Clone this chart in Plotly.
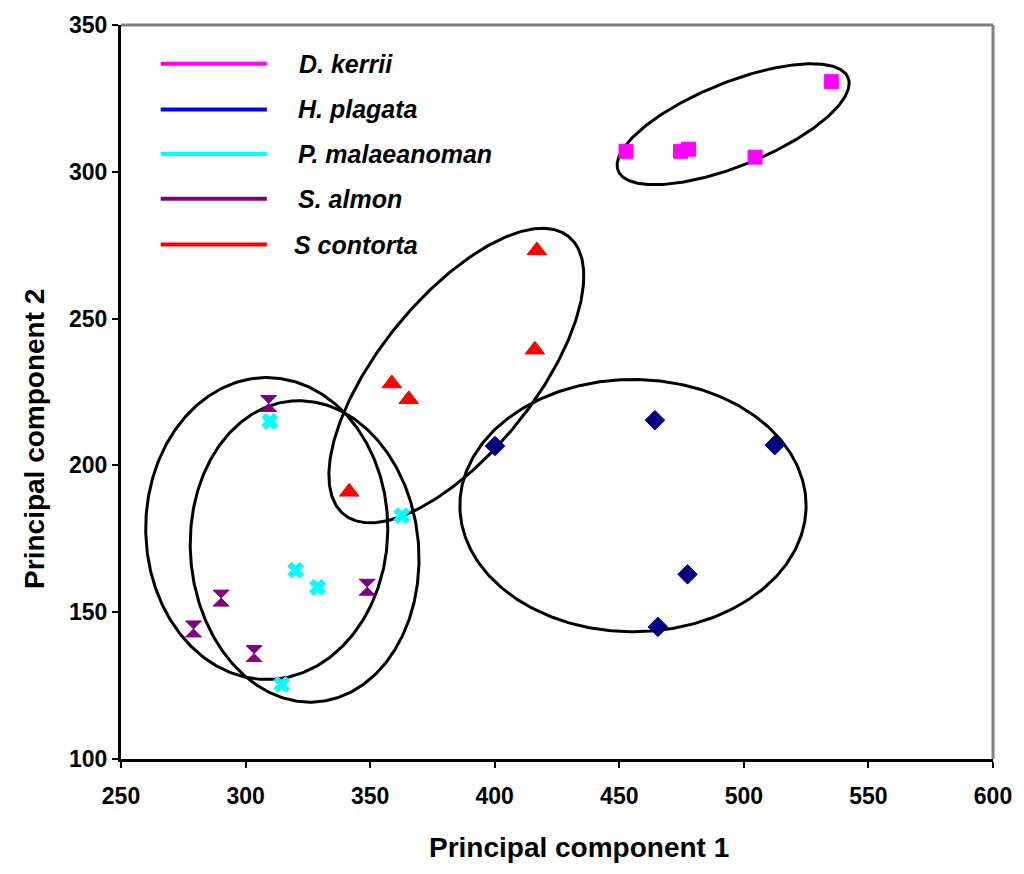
import numpy as np
import plotly.graph_objects as go

# ---- data -------------------------------------------------------------
species = ["D. kerrii", "H. plagata", "P. malaeanoman", "S. almon", "S contorta"]

kerrii_x = [452.7, 474.6, 477.8, 504.5, 535.1]
kerrii_y = [307.0, 307.0, 307.7, 305.0, 330.7]

plagata_x = [400.1, 464.3, 512.4, 477.4, 465.5]
plagata_y = [206.6, 215.4, 206.9, 162.9, 145.0]

malaeanoman_x = [309.7, 320.1, 328.9, 362.7, 314.5]
malaeanoman_y = [215.0, 164.3, 158.5, 182.9, 125.4]

almon_x = [309.3, 290.2, 279.1, 303.4, 348.8]
almon_y = [221.1, 154.8, 144.3, 135.9, 158.5]

contorta_x = [416.9, 416.1, 358.7, 365.5, 341.6]
contorta_y = [273.2, 239.4, 227.9, 222.5, 191.0]

x_ticks = [250, 300, 350, 400, 450, 500, 550, 600]
y_ticks = [100, 150, 200, 250, 300, 350]

# group ellipses: centre (data units), semi-axes (screen px), rotation (deg)
ell_cx = [495.7, 384.6, 455.5, 308.5, 323.7]
ell_cy = [316.2, 230.6, 186.3, 178.5, 170.7]
ell_a = [125, 180, 174.5, 122, 152]
ell_b = [42, 78, 127, 152, 115]
ell_rot = [22, 51, 0, 0, 95]

# ---- layout geometry ---------------------------------------------------
W, H = 1024, 874
ML, MR, MT, MB = 121, 24, 20, 115
PW, PH = W - ML - MR, H - MT - MB
XR, YR = (250, 600), (100, 350)
sx = PW / (XR[1] - XR[0])  # px per x unit
sy = PH / (YR[1] - YR[0])  # px per y unit

FONT = "Liberation Sans, Arial, sans-serif"

fig = go.Figure()

# ellipses
t = np.linspace(0, 2 * np.pi, 361)
for cx, cy, a, b, r in zip(ell_cx, ell_cy, ell_a, ell_b, ell_rot):
    th = np.deg2rad(r)
    dxp = a * np.cos(t) * np.cos(th) - b * np.sin(t) * np.sin(th)
    dyp = a * np.cos(t) * np.sin(th) + b * np.sin(t) * np.cos(th)
    fig.add_trace(go.Scatter(x=cx + dxp / sx, y=cy + dyp / sy, mode="lines",
                             line=dict(color="black", width=3),
                             showlegend=False, hoverinfo="skip"))

series = [
    (kerrii_x, kerrii_y, "square", "#FF00FF", 14),
    (plagata_x, plagata_y, "diamond", "#000080", 15),
    (malaeanoman_x, malaeanoman_y, "x", "#00FFFF", 14),
    (almon_x, almon_y, "hourglass", "#800080", 16),
    (contorta_x, contorta_y, "triangle-up", "#FF0000", 17),
]
for (xs, ys, sym, col, sz), name in zip(series, species):
    fig.add_trace(go.Scatter(x=xs, y=ys, mode="markers", name=name,
                             marker=dict(symbol=sym, color=col, size=sz,
                                         line=dict(width=1, color=col)),
                             showlegend=False))

# legend drawn as line samples with labels
legend_cols = ["#FF00FF", "#0000FF", "#00FFFF", "#800080", "#FF0000"]
legend_py = [59, 105, 150, 195, 241]
legend_tx = [298, 297, 297, 297, 293]


def px2paper(px, py):
    return (px - ML) / PW, (H - MB - py) / PH


shapes = []
annotations = []
for name, col, py, tx in zip(species, legend_cols, legend_py, legend_tx):
    x0, y0 = px2paper(161, py)
    x1, _ = px2paper(268, py)
    shapes.append(dict(type="line", xref="paper", yref="paper", x0=x0, x1=x1,
                       y0=y0, y1=y0, line=dict(color=col, width=4)))
    ax, ay = px2paper(tx, py)
    annotations.append(dict(xref="paper", yref="paper", x=ax, y=ay, text=f"<b><i>{name}</i></b>",
                            showarrow=False, xanchor="left", yanchor="middle",
                            font=dict(family=FONT, size=25, color="black")))

# grey frame on top and right of plot area
shapes.append(dict(type="line", xref="paper", yref="paper", x0=0, x1=1, y0=1, y1=1,
                   line=dict(color="#808080", width=3)))
shapes.append(dict(type="line", xref="paper", yref="paper", x0=1, x1=1, y0=0, y1=1,
                   line=dict(color="#808080", width=3)))

# axis titles
tx, ty = px2paper(583, 848)
annotations.append(dict(xref="paper", yref="paper", x=tx, y=ty, text="<b>Principal component 1</b>",
                        showarrow=False, xanchor="center", yanchor="middle",
                        font=dict(family=FONT, size=28, color="black")))
tx, ty = px2paper(33, 437)
annotations.append(dict(xref="paper", yref="paper", x=tx, y=ty, text="<b>Principal component 2</b>",
                        showarrow=False, xanchor="center", yanchor="middle", textangle=-90,
                        font=dict(family=FONT, size=28, color="black")))

axis_common = dict(showgrid=False, zeroline=False, showline=True, linecolor="black",
                   linewidth=3, ticks="outside", ticklen=6, tickwidth=2, tickcolor="black",
                   tickfont=dict(family=FONT, size=23, color="black"))

fig.update_layout(
    width=W, height=H,
    margin=dict(l=ML, r=MR, t=MT, b=MB),
    paper_bgcolor="white", plot_bgcolor="white",
    xaxis=dict(range=list(XR), tickvals=x_ticks, ticktext=[f"<b>{v}</b>" for v in x_ticks],
               ticklabelstandoff=8, **axis_common),
    yaxis=dict(range=list(YR), tickvals=y_ticks, ticktext=[f"<b>{v}</b>" for v in y_ticks],
               ticklabelstandoff=0, **axis_common),
    shapes=shapes, annotations=annotations, showlegend=False,
)

fig.write_html("out.html")
